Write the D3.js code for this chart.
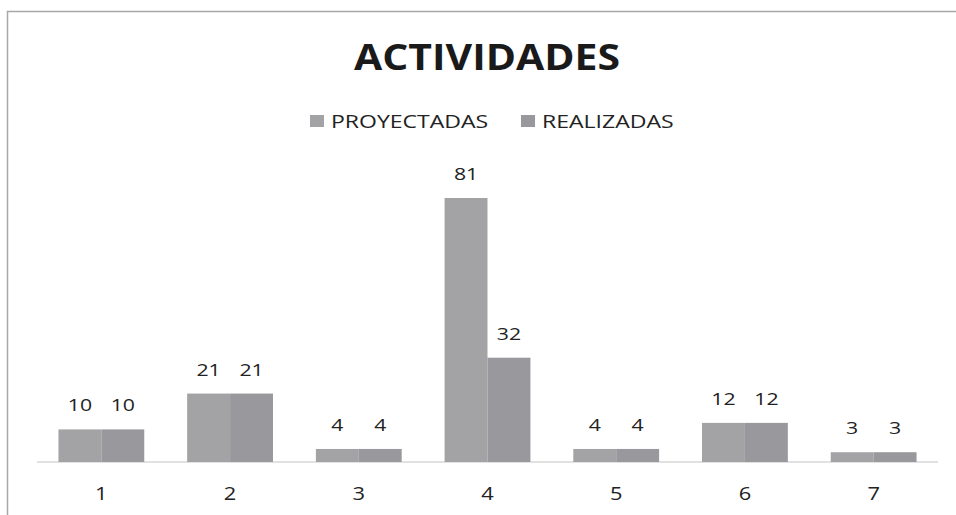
<!DOCTYPE html>
<html>
<head>
<meta charset="utf-8">
<script src="https://cdn.jsdelivr.net/npm/d3@7"></script>
<style>
  body { margin: 0; background: #fff; }
  svg { display: block; font-family: "Open Sans", sans-serif; }
</style>
</head>
<body>
<svg id="chart" width="956" height="515"></svg>
<script>
// data
const categories = ['1', '2', '3', '4', '5', '6', '7'];
const seriesNames = ['PROYECTADAS', 'REALIZADAS'];
const proyectadas = [10, 21, 4, 81, 4, 12, 3];
const realizadas = [10, 21, 4, 32, 4, 12, 3];
const seriesColors = ['#a3a3a5', '#98989d'];

// the scan is stretched sideways, so text gets a horizontal scale
function placeText(sel, x, y, sx) {
    return sel.attr('transform', `translate(${x},${y}) scale(${sx},1)`);
}

function drawChart() {
    const svg = d3.select('#chart');
    svg.selectAll('*').remove();

    // outer frame (only top and left edges show in the scan)
    svg.append('path')
        .attr('d', 'M7.5,515 V11.5 H956')
        .attr('fill', 'none')
        .attr('stroke', '#a8a8a8')
        .attr('stroke-width', 1.5);

    placeText(svg.append('text'), 487, 70, 1.17)
        .attr('text-anchor', 'middle')
        .attr('font-size', 35).attr('font-weight', 'bold')
        .attr('fill', '#1a1a1a')
        .text('ACTIVIDADES');

    const x = d3.scaleBand().domain(categories).range([37, 938])
        .paddingInner(1 / 3).paddingOuter(1 / 6);
    const xs = d3.scaleBand().domain(seriesNames).range([0, x.bandwidth()]);
    const y = d3.scaleLinear().domain([0, 81]).range([462, 198]);

    const rows = categories.map((c, i) => ({ cat: c, vals: [proyectadas[i], realizadas[i]] }));

    // baseline
    svg.append('line')
        .attr('x1', 37).attr('x2', 938)
        .attr('y1', y(0)).attr('y2', y(0))
        .attr('stroke', '#c4c4c4').attr('stroke-width', 1);

    const grp = svg.append('g').selectAll('g')
        .data(rows)
        .enter().append('g')
        .attr('transform', d => `translate(${x(d.cat)},0)`);

    const cell = grp.selectAll('g')
        .data(d => d.vals.map((v, k) => ({ name: seriesNames[k], v: v, k: k })))
        .enter().append('g');

    cell.append('rect')
        .attr('x', d => xs(d.name))
        .attr('y', d => y(d.v))
        .attr('width', xs.bandwidth())
        .attr('height', d => y(0) - y(d.v))
        .attr('fill', d => seriesColors[d.k]);

    cell.append('text')
        .attr('transform', d => `translate(${xs(d.name) + xs.bandwidth() / 2},${y(d.v) - 18}) scale(1.25,1)`)
        .attr('text-anchor', 'middle')
        .attr('font-size', 17)
        .attr('fill', '#222')
        .text(d => d.v);

    // category axis
    const axis = svg.append('g')
        .attr('transform', `translate(0,${y(0)})`)
        .call(d3.axisBottom(x).tickSize(0).tickPadding(25));
    axis.select('.domain').remove();
    axis.selectAll('text').attr('font-size', 19).attr('fill', '#222')
        .attr('font-family', '"Open Sans", sans-serif')
        .attr('transform', 'scale(1.15,1)');

    // legend
    const legendX = [310, 521];
    const leg = svg.append('g').selectAll('g')
        .data(seriesNames)
        .enter().append('g')
        .attr('transform', (d, i) => `translate(${legendX[i]},115)`);
    leg.append('rect').attr('width', 14).attr('height', 12)
        .attr('fill', (d, i) => seriesColors[i]);
    leg.each(function () {
        placeText(d3.select(this).append('text'), 21, 13, 1.28)
            .attr('font-size', 18).attr('fill', '#222')
            .text(d => d);
    });
}

drawChart();
</script>
</body>
</html>
